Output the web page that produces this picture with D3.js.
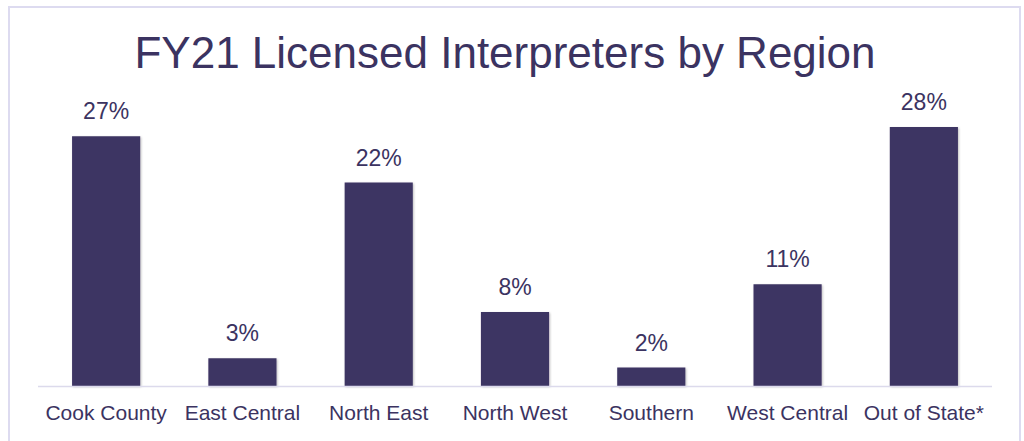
<!DOCTYPE html>
<html>
<head>
<meta charset="utf-8">
<script src="https://cdn.jsdelivr.net/npm/d3@7"></script>
<style>
  body { margin: 0; background: #fff; }
  text { font-family: "Liberation Sans", Arial, sans-serif; fill: #3b3361; }
</style>
</head>
<body>
<div id="chart"></div>
<script>
var regions = ["Cook County", "East Central", "North East", "North West", "Southern", "West Central", "Out of State*"];
var shares = [27, 3, 22, 8, 2, 11, 28];

var width = 1024, height = 441;
var barColor = "#3d3463";

var svg = d3.select("#chart").append("svg")
    .attr("width", width)
    .attr("height", height);

var defs = svg.append("defs");
var shadow = defs.append("filter").attr("id", "shadow")
    .attr("x", "-10%").attr("y", "-10%").attr("width", "130%").attr("height", "130%");
shadow.append("feDropShadow")
    .attr("dx", 1).attr("dy", 1).attr("stdDeviation", 1.2)
    .attr("flood-color", "#000").attr("flood-opacity", 0.25);

/* frame */
svg.append("rect")
    .attr("x", 9).attr("y", 7)
    .attr("width", 1011).attr("height", 450)
    .attr("fill", "none")
    .attr("stroke", "#dddbf0")
    .attr("stroke-width", 2);

svg.append("text")
    .attr("x", 505).attr("y", 68)
    .attr("text-anchor", "middle")
    .style("font-size", "44px")
    .text("FY21 Licensed Interpreters by Region");

var x = d3.scaleBand()
    .domain(regions)
    .range([38, 992])
    .paddingInner(0.5)
    .paddingOuter(0.25);

var y = d3.scaleLinear()
    .domain([0, 30])
    .range([386, 108.5]);

svg.selectAll(".bar")
    .data(shares)
    .enter().append("rect")
    .attr("class", "bar")
    .attr("x", (d, i) => x(regions[i]))
    .attr("y", d => y(d))
    .attr("width", x.bandwidth())
    .attr("height", d => y(0) - y(d))
    .attr("fill", barColor)
    .attr("filter", "url(#shadow)");

svg.append("line")
    .attr("x1", 38).attr("x2", 992)
    .attr("y1", 386.5).attr("y2", 386.5)
    .attr("stroke", "#dcdaec")
    .attr("stroke-width", 1.5);

svg.selectAll(".value")
    .data(shares)
    .enter().append("text")
    .attr("class", "value")
    .attr("x", (d, i) => x(regions[i]) + x.bandwidth() / 2)
    .attr("y", d => y(d) - 17)
    .attr("text-anchor", "middle")
    .style("font-size", "23px")
    .text(d => d + "%");

var xAxis = d3.axisBottom(x).tickSize(0).tickPadding(19);
var gx = svg.append("g")
    .attr("transform", "translate(0,386)")
    .call(xAxis);
gx.select(".domain").remove();
gx.selectAll("text")
    .style("font-size", "21px")
    .attr("fill", "#3b3361");
</script>
</body>
</html>
